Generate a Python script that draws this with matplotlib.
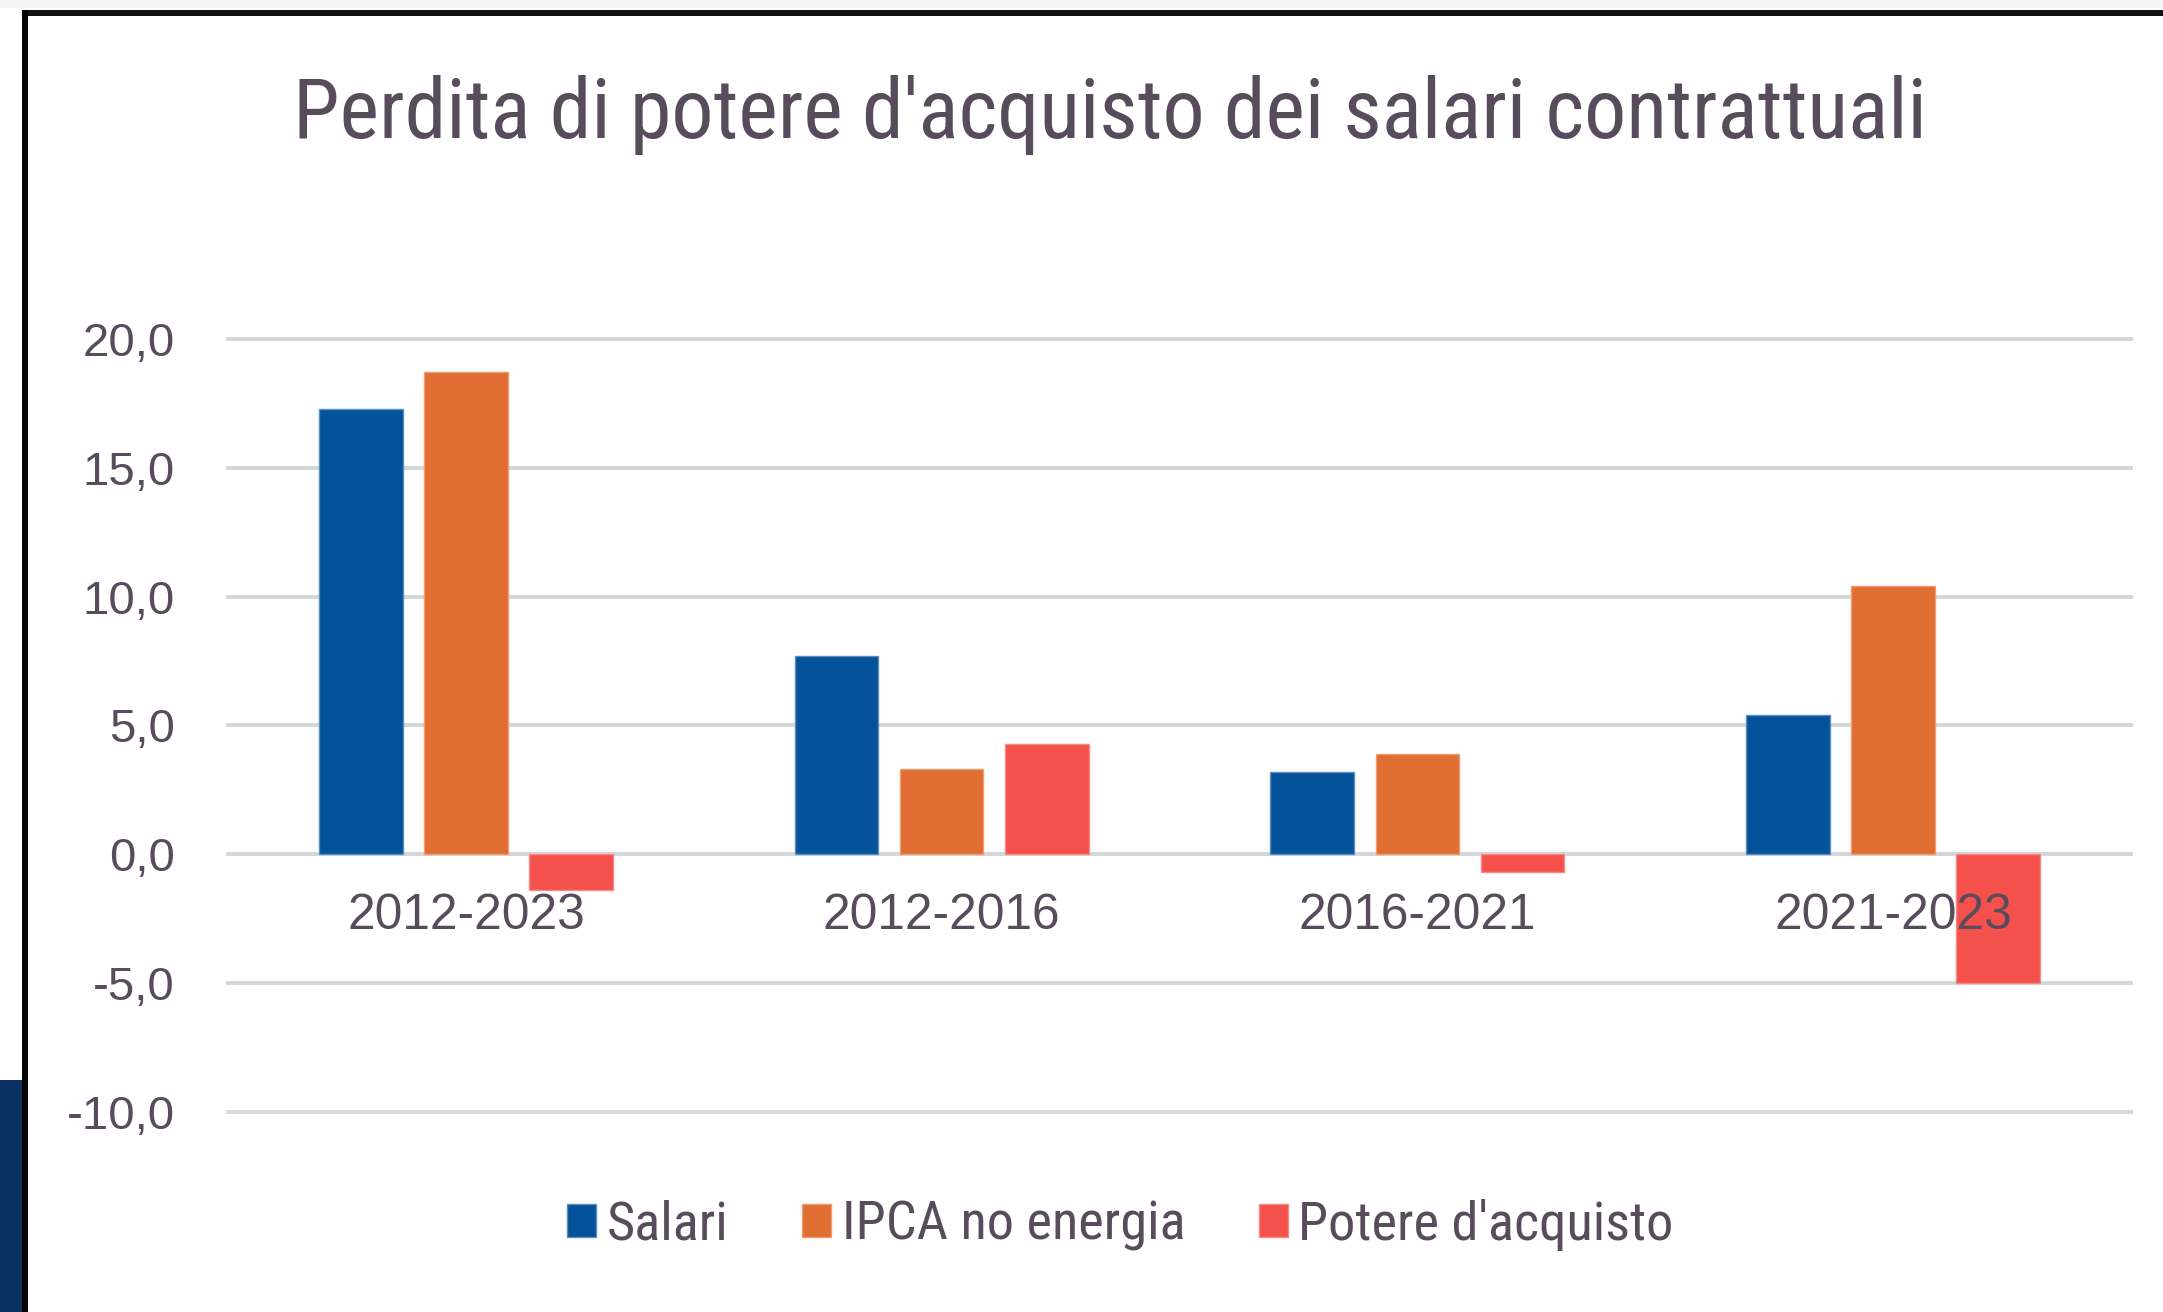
import matplotlib
matplotlib.use('Agg')
import matplotlib.pyplot as plt
from matplotlib import font_manager as fm
from matplotlib.patches import Rectangle
import numpy as np

# ---------------- data ----------------
title = "Perdita di potere d'acquisto dei salari contrattuali"
categories = ['2012-2023', '2012-2016', '2016-2021', '2021-2023']
salari = [17.3, 7.7, 3.2, 5.4]
ipca = [18.7, 3.3, 3.9, 10.4]
potere = [-1.4, 4.3, -0.7, -5.0]
series_names = ['Salari', 'IPCA no energia', "Potere d'acquisto"]
yticks = [-10, -5, 0, 5, 10, 15, 20]
ytick_labels = ['-10,0', '-5,0', '0,0', '5,0', '10,0', '15,0', '20,0']

# ---------------- style ----------------
def pick_font(names):
    for n in names:
        try:
            fm.findfont(fm.FontProperties(family=n), fallback_to_default=False)
            return n
        except Exception:
            pass
    return 'DejaVu Sans'

NARROW = pick_font(['Liberation Sans Narrow', 'Roboto Condensed', 'Liberation Sans'])
REGULAR = pick_font(['Liberation Sans', 'Arimo', 'DejaVu Sans'])
plt.rcParams['font.family'] = [NARROW, 'DejaVu Sans']

TXT = '#584c5c'
COLORS = ['#04529a', '#e06d32', '#f4504c']
EDGES = ['#5d8fbd', '#f09a70', '#f78a87']
GRID = '#d3d7db'

W, H = 2163, 1312
DPI = 100
fig = plt.figure(figsize=(W / DPI, H / DPI), dpi=DPI, facecolor='white')
renderer = fig.canvas.get_renderer()

def fit(artist, target_px):
    for _ in range(3):
        w = artist.get_window_extent(renderer).width
        artist.set_fontsize(artist.get_fontsize() * target_px / w)

# frame decorations of the screenshot
fig.patches.append(Rectangle((0, 1 - 8 / H), 1, 8 / H, transform=fig.transFigure,
                             facecolor='#f4f4f4', edgecolor='none', zorder=0))
fig.patches.append(Rectangle((22 / W, 1 - 16 / H), 1 - 22 / W, 6 / H, transform=fig.transFigure,
                             facecolor='#111111', edgecolor='none', zorder=1))
fig.patches.append(Rectangle((22 / W, 0), 6 / W, 1 - 10 / H, transform=fig.transFigure,
                             facecolor='#050505', edgecolor='none', zorder=1))
fig.patches.append(Rectangle((0, 0), 22 / W, (H - 1080) / H, transform=fig.transFigure,
                             facecolor='#0a3062', edgecolor='none', zorder=1))

# ---------------- axes ----------------
x0, x1 = 228, 2131
ytop, ybot = 339, 1112
ax = fig.add_axes([x0 / W, (H - ybot) / H, (x1 - x0) / W, (ybot - ytop) / H])
ax.set_facecolor('none')
ax.set_xlim(-0.5, len(categories) - 0.5)
ax.set_ylim(-10, 20)

for v in yticks:
    ax.axhline(v, color=GRID, lw=2.8, zorder=0, clip_on=False)

x = np.arange(len(categories))
bw = 0.176
off = 0.221
bars = []
for i, (vals, c, e, name) in enumerate(zip([salari, ipca, potere], COLORS, EDGES, series_names)):
    b = ax.bar(x + (i - 1) * off, vals, width=bw, color=c, edgecolor=e, linewidth=1.0,
               label=name, zorder=2)
    bars.append(b)

for s in ax.spines.values():
    s.set_visible(False)
ax.set_xticks([])
ax.set_yticks(yticks)
ax.set_yticklabels(ytick_labels, fontfamily=REGULAR)
ax.tick_params(axis='y', length=0, pad=53 * 72 / DPI, labelcolor=TXT, labelsize=24)

cat_texts = []
for xi, cat in zip(x, categories):
    t = ax.annotate(cat, xy=(xi, 0), xytext=(0, -62 * 72 / DPI), textcoords='offset points',
                    ha='center', va='center', color=TXT, fontsize=24, zorder=5,
                    fontfamily=REGULAR)
    cat_texts.append(t)

# title
tt = fig.text(1110 / W, 1 - 138 / H, title, ha='center', va='baseline', color=TXT, fontsize=50)
fit(tt, 1637)

# font size fitting for tick labels and category labels
for t in cat_texts:
    fit(t, 237)
lbls = ax.get_yticklabels()
ref = [l for l in lbls if l.get_text() == '20,0'][0]
w = ref.get_window_extent(renderer).width
ysize = 24 * 92 / w
ax.tick_params(axis='y', labelsize=ysize)

# legend
probe = fig.text(0, 0, "Potere d'acquisto", fontsize=24)
wp = probe.get_window_extent(renderer).width
probe.remove()
lsize = 24 * 376 / wp
fpx = lsize * DPI / 72
leg = fig.legend(handles=bars, labels=series_names, loc='center',
                 bbox_to_anchor=(1120.5 / W, 1 - 1225 / H), ncol=3, frameon=False,
                 fontsize=lsize, handlelength=29 / fpx, handleheight=29 / fpx,
                 handletextpad=11 / fpx, columnspacing=73 / fpx, borderpad=0,
                 labelcolor=TXT)

fig.savefig('out.png', dpi=DPI, facecolor='white')
